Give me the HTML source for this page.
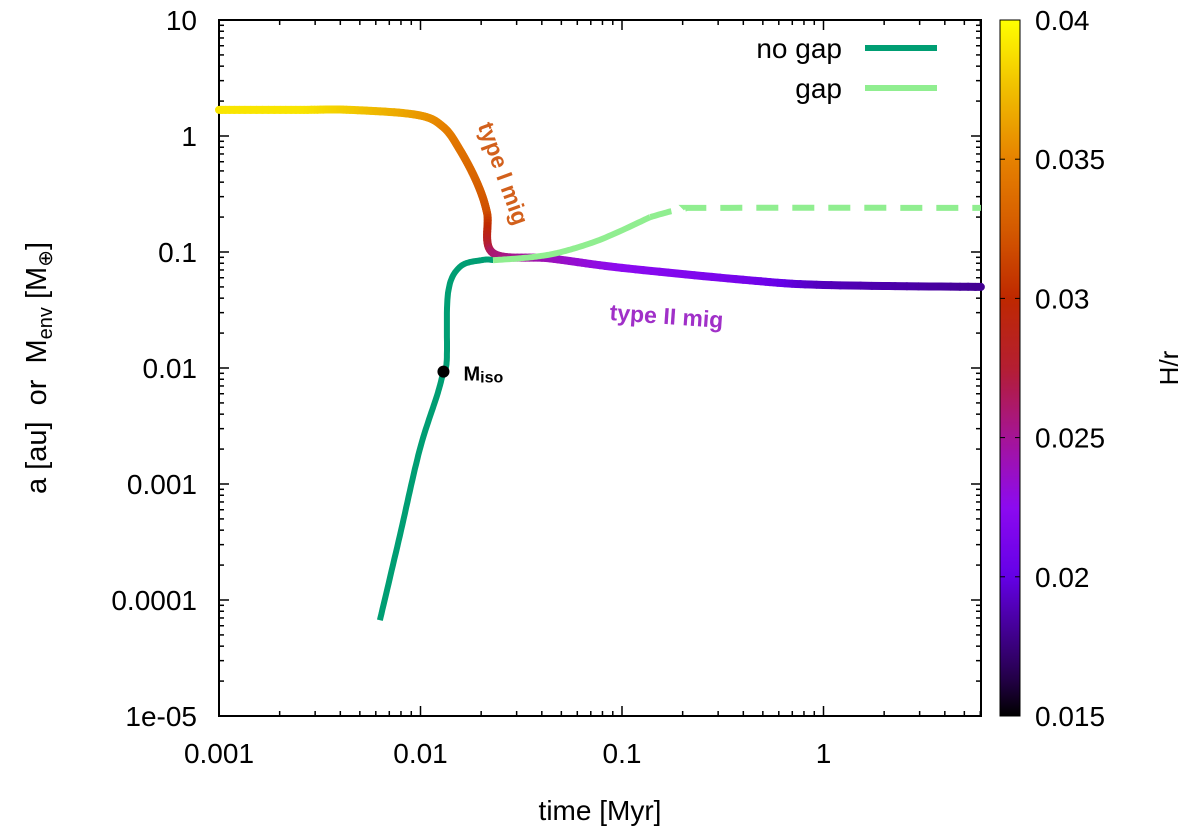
<!DOCTYPE html>
<html><head><meta charset="utf-8">
<style>
html,body{margin:0;padding:0;background:#fff;}
svg{display:block;font-family:"Liberation Sans",sans-serif;}
text{white-space:pre;}
</style></head>
<body>
<svg id="chart" width="1200" height="838" viewBox="0 0 1200 838"></svg>
<script>
// ---- data ----
const aTime = [0.001,0.00253,0.00447,0.00962,0.01294,0.0157,0.0191,0.0214,0.0229,0.044,0.1,0.43,1,6.04];
const aValue = [1.68,1.68,1.68,1.52,1.2,0.757,0.394,0.217,0.098,0.088,0.073,0.057,0.052,0.050];
const aHr = [0.039,0.039,0.038,0.036,0.035,0.034,0.033,0.032,0.026,0.024,0.0225,0.021,0.019,0.018];
const noGapTime = [0.00629,0.0079,0.0099,0.0121,0.0130,0.0135,0.0137,0.0157,0.0203,0.0229];
const noGapMass = [6.7e-5,3.6e-4,0.00196,0.00585,0.0093,0.0117,0.0443,0.0745,0.0853,0.0853];
const gapTime = [0.0229,0.035,0.05,0.08,0.138];
const gapMass = [0.085,0.09,0.10,0.13,0.20];
const gapDashTime = [0.138,0.2,0.3,6.04];
const gapDashMass = [0.20,0.235,0.24,0.24];
const misoPoint = [0.0130,0.0093];
const xTicks = [0.001,0.01,0.1,1];
const xTickLabels = ["0.001","0.01","0.1","1"];
const yTicks = [10,1,0.1,0.01,0.001,0.0001,1e-5];
const yTickLabels = ["10","1","0.1","0.01","0.001","0.0001","1e-05"];
const cbTicks = [0.04,0.035,0.03,0.025,0.02,0.015];
const cbTickLabels = ["0.04","0.035","0.03","0.025","0.02","0.015"];

// ---- layout ----
const L=219,R=981,T=20,B=716;
const xs = t => L + (Math.log10(t)+3)*201.5;
const ys = v => T + (1-Math.log10(v))*116;
const cbX=1000,cbW=20,cbMin=0.015,cbMax=0.04;
const cs = h => B - (h-cbMin)/(cbMax-cbMin)*(B-T);
const NS="http://www.w3.org/2000/svg";
const svg=document.getElementById('chart');
function mk(tag,attrs,parent){const e=document.createElementNS(NS,tag);for(const k in attrs)e.setAttribute(k,attrs[k]);(parent||svg).appendChild(e);return e;}

const stops=[[0.015,[0,0,0]],[0.0165,[40,0,80]],[0.02,[100,0,230]],[0.0225,[140,10,240]],[0.025,[165,20,150]],[0.0275,[180,30,50]],[0.03,[190,40,0]],[0.0325,[212,90,0]],[0.035,[230,130,0]],[0.0375,[240,190,0]],[0.04,[255,255,0]]];
function pal(h){h=Math.max(cbMin,Math.min(cbMax,h));
 for(let i=1;i<stops.length;i++){if(h<=stops[i][0]){const a=stops[i-1],b=stops[i];const u=(h-a[0])/(b[0]-a[0]);
 const c=a[1].map((v,j)=>Math.round(v+(b[1][j]-v)*u));return `rgb(${c[0]},${c[1]},${c[2]})`;}}return 'rgb(255,255,0)';}

// colorbar
const defs=mk('defs',{});
const grad=mk('linearGradient',{id:'cbg',x1:0,y1:1,x2:0,y2:0},defs);
for(let i=0;i<=40;i++){const f=i/40;mk('stop',{offset:f,'stop-color':pal(cbMin+f*(cbMax-cbMin))},grad);}
const cb=mk('rect',{x:cbX,y:T,width:cbW,height:B-T,fill:'url(#cbg)',stroke:'#000','stroke-width':1});


cbTicks.forEach((v,i)=>{const y=cs(v);
 mk('line',{x1:cbX,x2:cbX+5,y1:y,y2:y,stroke:'#000','stroke-width':1});
 mk('line',{x1:cbX+cbW-5,x2:cbX+cbW,y1:y,y2:y,stroke:'#000','stroke-width':1});
 const t=mk('text',{x:1035,y:y+10,'font-size':28,fill:'#000'});t.textContent=cbTickLabels[i];
 
 
});
const hr=mk('text',{transform:'translate(1178,368) rotate(-90)','text-anchor':'middle','font-size':26});hr.textContent='H/r';



// plot frame and ticks
const frame=mk('rect',{x:L,y:T,width:R-L,height:B-T,fill:'none',stroke:'#000','stroke-width':2});


for(let d=-3;d<=0;d++){for(let m=1;m<10;m++){const t=m*Math.pow(10,d);const x=xs(t);if(x>R)continue;const len=m==1?10:5;
 mk('line',{x1:x,x2:x,y1:B,y2:B-len,stroke:'#000','stroke-width':1.5});mk('line',{x1:x,x2:x,y1:T,y2:T+len,stroke:'#000','stroke-width':1.5});}}
for(let d=-5;d<=0;d++){for(let m=1;m<10;m++){const v=m*Math.pow(10,d);const y=ys(v);const len=m==1?10:5;
 mk('line',{x1:L,x2:L+len,y1:y,y2:y,stroke:'#000','stroke-width':1.5});mk('line',{x1:R,x2:R-len,y1:y,y2:y,stroke:'#000','stroke-width':1.5});}}
xTicks.forEach((t,i)=>{const e=mk('text',{x:xs(t),y:763,'text-anchor':'middle','font-size':28});e.textContent=xTickLabels[i];
 
 });
yTicks.forEach((v,i)=>{const e=mk('text',{x:197,y:ys(v)+10,'text-anchor':'end','font-size':28});e.textContent=yTickLabels[i];
 
 });
const xt=mk('text',{x:600,y:820,'text-anchor':'middle','font-size':28});xt.textContent='time [Myr]';


const yt=mk('text',{transform:'translate(46,368) rotate(-90)','text-anchor':'middle','font-size':29});
yt.innerHTML='a [au]  or  M<tspan font-size="20" dy="6">env</tspan><tspan dy="-6"> [M</tspan><tspan font-size="20" dy="6">⊕</tspan><tspan dy="-6">]</tspan>';



// smooth curve helper (Catmull-Rom in pixel space)
function smoothPts(tx,vy,n){const P=tx.map((t,i)=>[xs(t),ys(vy[i])]);const out=[];
 for(let i=0;i<P.length-1;i++){const p0=P[Math.max(0,i-1)],p1=P[i],p2=P[i+1],p3=P[Math.min(P.length-1,i+2)];
  for(let k=0;k<n;k++){const u=k/n,u2=u*u,u3=u2*u;
   const f=(a,b,c,d)=>0.5*((2*b)+(-a+c)*u+(2*a-5*b+4*c-d)*u2+(-a+3*b-3*c+d)*u3);
   out.push([f(p0[0],p1[0],p2[0],p3[0]),f(p0[1],p1[1],p2[1],p3[1]),i,u]);}}
 const l=P[P.length-1];out.push([l[0],l[1],P.length-2,1]);return out;}
function smoothPath(tx,vy){return smoothPts(tx,vy,16).map((p,i)=>(i?'L':'M')+p[0].toFixed(1)+','+p[1].toFixed(1)).join(' ');}

// semi-major axis colored by H/r
const ag=mk('g',{});


const apts=smoothPts(aTime,aValue,16);
for(let j=0;j<apts.length-1;j++){const p=apts[j],q=apts[j+1];
 const h=aHr[p[2]]+(aHr[p[2]+1]-aHr[p[2]])*p[3];
 mk('line',{x1:p[0],y1:p[1],x2:q[0],y2:q[1],stroke:pal(h),'stroke-width':8,'stroke-linecap':'round'},ag);}

const ng=mk('path',{d:smoothPath(noGapTime,noGapMass),fill:'none',stroke:'#009e73','stroke-width':6,'stroke-linejoin':'round'});


const gp=mk('path',{d:smoothPath(gapTime,gapMass),fill:'none',stroke:'#90ee90','stroke-width':6,'stroke-linejoin':'round'});


const gd=mk('path',{d:smoothPath(gapDashTime,gapDashMass),fill:'none',stroke:'#90ee90','stroke-width':6,'stroke-dasharray':'22,14'});


const dot=mk('circle',{cx:xs(misoPoint[0]),cy:ys(misoPoint[1]),r:6,fill:'#000'});


const ml=mk('text',{x:xs(misoPoint[0])+20,y:ys(misoPoint[1])+9,'font-size':20,'font-weight':'bold'});
ml.innerHTML='M<tspan font-size="16" dy="2">iso</tspan>';



const t1=mk('text',{transform:'translate(496,176) rotate(70)','text-anchor':'middle','font-size':23,'font-weight':'bold',fill:'#d2601c'});t1.textContent='type I mig';


const t2=mk('text',{transform:'translate(666,324) rotate(4)','text-anchor':'middle','font-size':23,'font-weight':'bold',fill:'#a030c8'});t2.textContent='type II mig';



// legend
const lg=mk('g',{});


const l1=mk('text',{x:842,y:58,'text-anchor':'end','font-size':28},lg);l1.textContent='no gap';
mk('line',{x1:865,x2:937,y1:48,y2:48,stroke:'#009e73','stroke-width':6},lg);
const l2=mk('text',{x:842,y:98,'text-anchor':'end','font-size':28},lg);l2.textContent='gap';
mk('line',{x1:865,x2:937,y1:88,y2:88,stroke:'#90ee90','stroke-width':6},lg);
</script>
</body></html>
